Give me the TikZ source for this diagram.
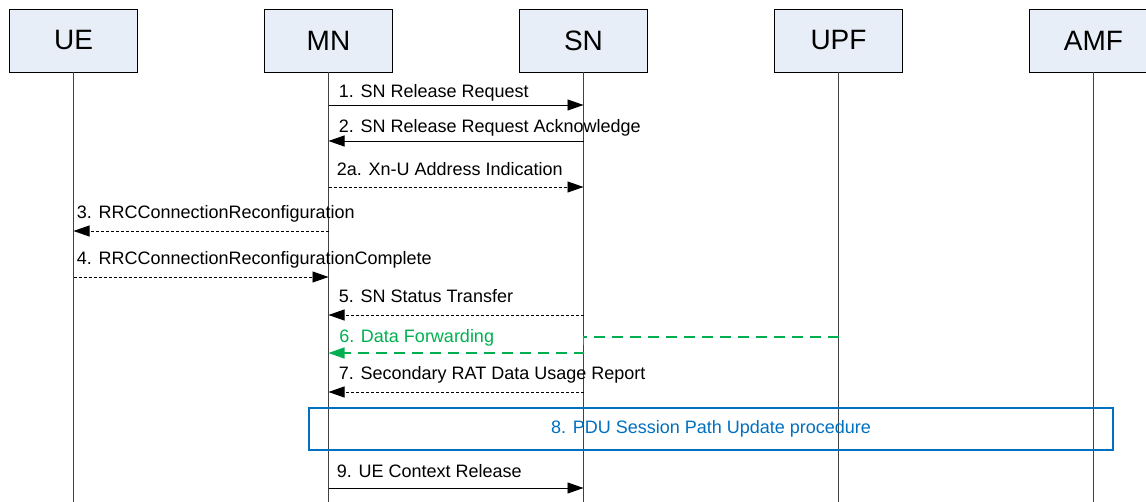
\documentclass[tikz,border=0pt]{standalone}
\usepackage{fontspec}
\setmainfont{Liberation Sans}
\usetikzlibrary{arrows,arrows.meta,positioning}
\definecolor{boxfill}{RGB}{232,238,248}
\definecolor{fwdgreen}{RGB}{0,176,80}
\definecolor{procblue}{RGB}{0,112,192}

\begin{document}
\begin{tikzpicture}[x=1pt,y=-1pt,line width=0.9pt,
  >={Triangle[length=16pt,width=11pt]},
  entity/.style={draw,line width=0.8pt,fill=boxfill,minimum width=128pt,
    minimum height=63pt,inner sep=0pt,outer sep=0pt,font=\fontsize{28}{30}\selectfont},
  msg/.style={font=\fontsize{18}{20}\selectfont,anchor=base west,inner sep=0pt},
  sig/.style={dash pattern=on 3pt off 2pt},
  fwd/.style={draw=fwdgreen,line width=1.6pt,dash pattern=on 11pt off 7pt}]
        \useasboundingbox (0,0) rectangle (1146,502);
        \node (ue) [entity] at (73.5,40.5) {UE};
        \node (mn) [entity,right=127pt of ue] {MN};
        \node (sn) [entity,right=127pt of mn] {SN};
        \node (upf) [entity,right=127pt of sn] {UPF};
        \node (amf) [entity,right=127pt of upf] {AMF};

        % lifelines and message rows
        \foreach \n in {ue,mn,sn,upf,amf} {
          \coordinate (\n-end) at (\n |- 0,502);
          \draw[black!75,line width=0.8pt] (\n.south) -- (\n-end);
          \foreach \r/\y in {1/105,2/141,2a/187,3/231,4/277,5/315,6a/337,6/353,7/392,9/488} {
            \coordinate (\n-\r) at (\n |- 0,\y);
          }
        }

        \draw[->] (mn-1) -- (sn-1)
          node[msg,pos=0,xshift=10pt,yshift=7pt] {1. SN Release Request};
        \draw[->] (sn-2) -- (mn-2)
          node[msg,pos=1,xshift=10pt,yshift=8pt] {2. SN Release Request Acknowledge};
        \draw[->,sig] (mn-2a) -- (sn-2a)
          node[msg,pos=0,xshift=8pt,yshift=11pt] {2a. Xn-U Address Indication};
        \draw[->,sig] (mn-3) -- (ue-3)
          node[msg,pos=1,xshift=3pt,yshift=12pt] {3. RRCConnectionReconfiguration};
        \draw[->,sig] (ue-4) -- (mn-4)
          node[msg,pos=0,xshift=3pt,yshift=12pt] {4. RRCConnectionReconfigurationComplete};
        \draw[->,sig] (sn-5) -- (mn-5)
          node[msg,pos=1,xshift=10pt,yshift=12pt] {5. SN Status Transfer};
        \draw[fwd,->] (upf-6a) -- (sn-6a) -- (sn-6) -- (mn-6)
          node[msg,pos=1,xshift=10pt,yshift=10pt,text=fwdgreen] {6. Data Forwarding};
        \draw[->,sig] (sn-7) -- (mn-7)
          node[msg,pos=1,xshift=10pt,yshift=12pt] {7. Secondary RAT Data Usage Report};

        \node (pdu) [draw=procblue,line width=1.2pt,minimum width=804pt,minimum height=42pt,
          text=procblue,font=\fontsize{18}{20}\selectfont] at (711,429)
          {8. PDU Session Path Update procedure};

        \draw[->] (mn-9) -- (sn-9)
          node[msg,pos=0,xshift=8pt,yshift=11pt] {9. UE Context Release};
      \end{tikzpicture}
\end{document}
